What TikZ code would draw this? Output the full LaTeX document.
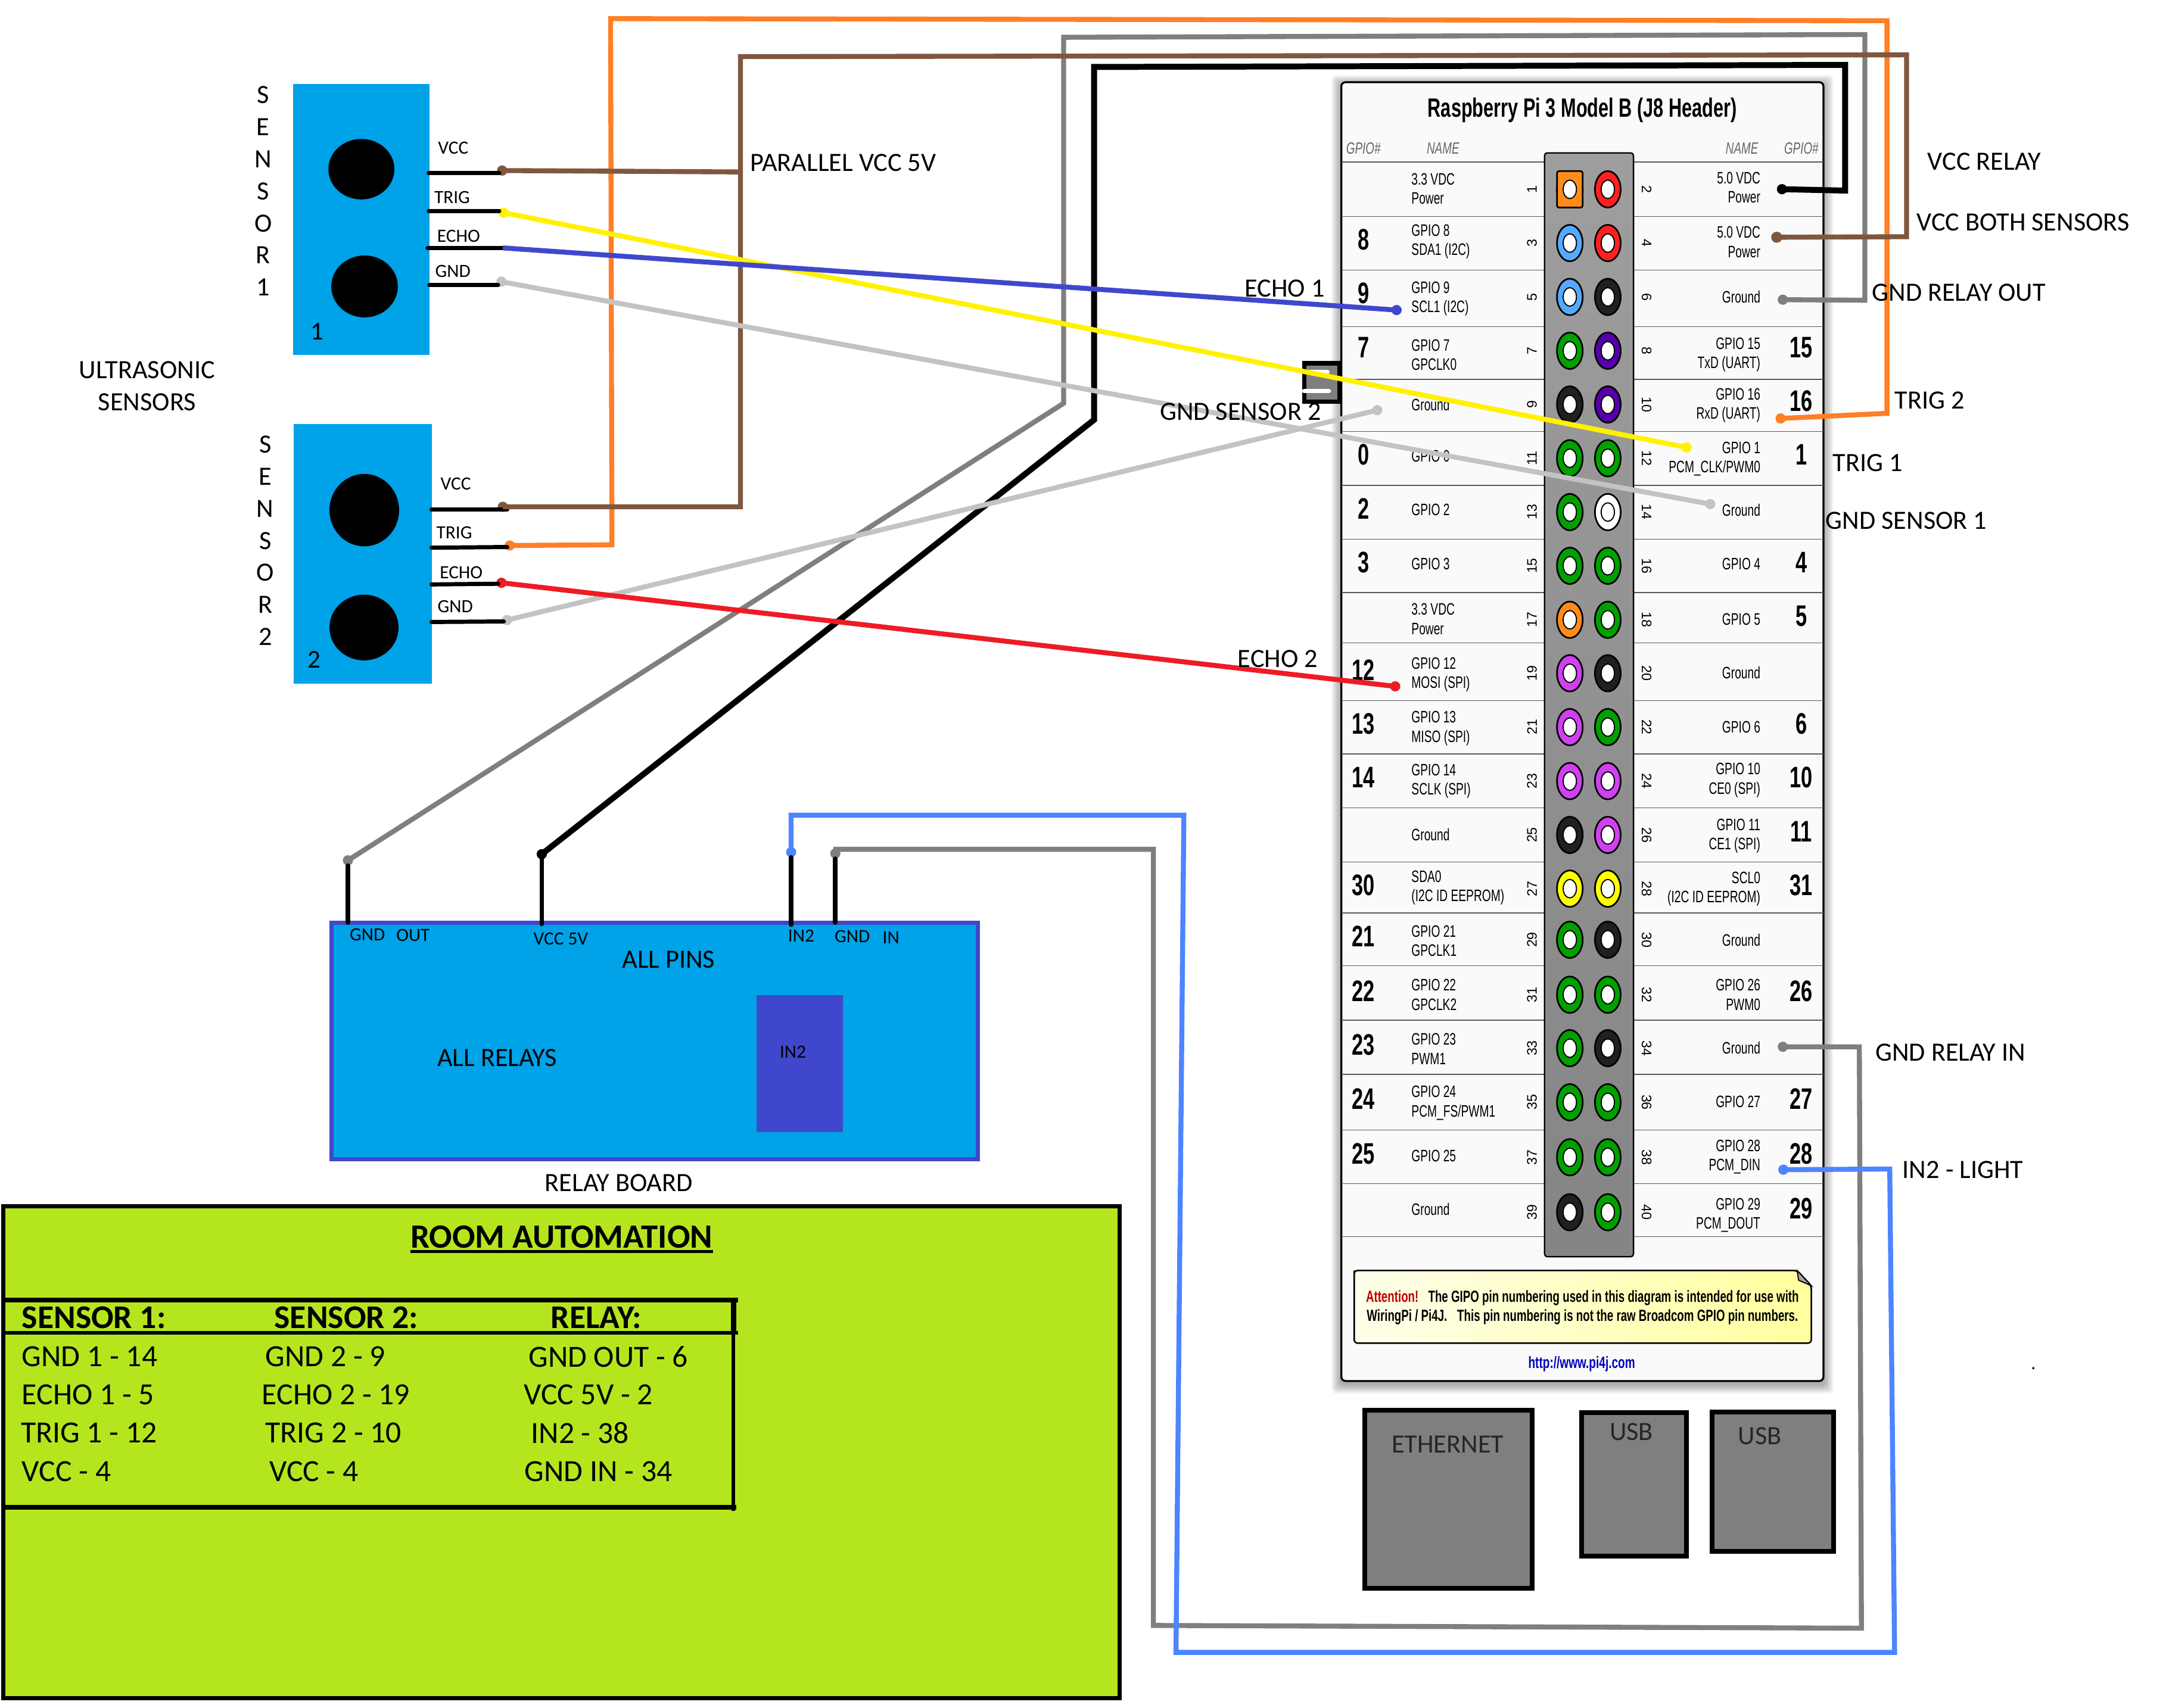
\documentclass[tikz,border=0pt]{standalone}
\usepackage{fontspec}
\setmainfont{Carlito}
\newfontfamily\nf[FakeStretch=0.69]{Liberation Sans}
\newfontfamily\lib{Liberation Sans}
\usetikzlibrary{shapes.geometric}
\definecolor{skyb}{HTML}{00A2E8}
\definecolor{indig}{HTML}{3F48CC}
\definecolor{limeg}{HTML}{B5E61D}
\definecolor{wbrown}{HTML}{7F573F}
\definecolor{wyellow}{HTML}{FFF200}
\definecolor{wlgray}{HTML}{C3C3C3}
\definecolor{wred}{HTML}{ED1C24}
\definecolor{worange}{HTML}{FF7F27}
\definecolor{wgray}{HTML}{7F7F7F}
\definecolor{wlblue}{HTML}{4D84FF}
\definecolor{pg}{HTML}{00A000}
\definecolor{pb}{HTML}{55AAFF}
\definecolor{pr}{HTML}{FF2020}
\definecolor{po}{HTML}{FF8C1A}
\definecolor{pv}{HTML}{5500AA}
\definecolor{pm}{HTML}{D040F0}
\definecolor{py}{HTML}{FFFF00}
\definecolor{pk}{HTML}{202020}
\definecolor{pw}{HTML}{FFFFFF}
\tikzset{
 lab/.style={font=\fontsize{19.1}{22}\selectfont,inner sep=0,text=black},
 labs/.style={font=\fontsize{13.5}{16}\selectfont,inner sep=0,text=black},
 tabb/.style={font=\bfseries\fontsize{24}{28}\selectfont,inner sep=0,anchor=west},
 tabt/.style={font=\fontsize{22.3}{26}\selectfont,inner sep=0,anchor=west},
 wire/.style={line width=3.6pt,line join=miter},
 stub/.style={line width=3pt,black,line cap=round},
 wdot/.style={circle,inner sep=0,minimum size=7.4pt},
 pinring/.style={ellipse,draw=black,line width=1.2pt,minimum width=18.6pt,minimum height=26.4pt,inner sep=0},
 pinhole/.style={ellipse,draw=black,line width=0.8pt,fill=white,minimum width=9.6pt,minimum height=13.4pt,inner sep=0},
 pnl/.style={font=\lib\fontsize{10}{12}\selectfont,inner sep=0,rotate=90},
 pnr/.style={font=\lib\fontsize{10}{12}\selectfont,inner sep=0,rotate=-90},
 namel/.style={font=\nf\fontsize{12}{14}\selectfont,inner sep=0,anchor=west,align=left},
 namer/.style={font=\nf\fontsize{12}{14}\selectfont,inner sep=0,anchor=east,align=right},
 bignum/.style={font=\nf\bfseries\fontsize{21.5}{24}\selectfont,inner sep=0},
 headt/.style={font=\nf\itshape\fontsize{11.8}{13}\selectfont,inner sep=0,text=black!60},
 boxp/.style={draw=black,fill=wgray,line width=3.5pt,inner sep=0},
 rowline/.style={draw=black!65,line width=0.7pt},
}
\begin{document}
\begin{tikzpicture}[x=1pt,y=-1pt]
\useasboundingbox (0,0) rectangle (1568,1236.8);
\fill[white] (0,0) rectangle (1568,1236.8);

% ---------- Raspberry Pi board
\foreach \r in {7,6,5,4,3,2,1}{
  \fill[black,opacity=0.05,rounded corners=3pt] (971-\r,59.5-\r+2) rectangle (1320+\r,1000+\r+2);
}
\node[draw=black,line width=1.4pt,fill=black!2,rounded corners=3pt,minimum width=349pt,minimum height=940.5pt,inner sep=0] (board) at (1145.5,529.75) {};
\node[font=\nf\bfseries\fontsize{19.2}{22}\selectfont,inner sep=0] (title) at (1145.5,79.8) {Raspberry Pi 3 Model B (J8 Header)};
\node[headt] (hg1) at (987,107.5) {GPIO\#};
\node[headt] (hn1) at (1044.6,107.5) {NAME};
\node[headt] (hn2) at (1261,107.5) {NAME};
\node[headt] (hg2) at (1304,107.5) {GPIO\#};
\foreach \yy in {117.3,156.7,195.6,236.6,274.8,312.4,351.4,390.5,429.2,465.5,507.3,546,585,624.2,661.1,699.2,738.8,778,818.2,857.1,895.4}{
  \draw[rowline] (971,\yy) -- (1320,\yy);
}
\node[draw=black,line width=1pt,top color=black!38,bottom color=black!48,rounded corners=2pt,minimum width=64.4pt,minimum height=799.3pt,inner sep=0] (header) at (1150.3,510.35) {};

\foreach \a/\b/\yy/\ca/\cb in {1/2/137.1/po/pr,3/4/176/pb/pr,5/6/215/pb/pk,7/8/254/pg/pv,9/10/292.9/pk/pv,11/12/331.8/pg/pg,13/14/370.8/pg/pw,15/16/409.7/pg/pg,17/18/448.8/po/pg,19/20/487.5/pm/pk,21/22/526.5/pm/pg,23/24/565.6/pm/pm,25/26/604.6/pk/pm,27/28/643.5/py/py,29/30/680.5/pg/pk,31/32/720.3/pg/pg,33/34/759/pg/pk,35/36/798.2/pg/pg,37/38/838/pg/pg,39/40/877.8/pk/pg}{
  \node[pinring,fill=\ca] (p\a) at (1136.4,\yy) {};
  \node[pinring,fill=\cb] (p\b) at (1163.9,\yy) {};
  \node[pnl] (nl\a) at (1109,\yy) {\a};
  \node[pnr] (nr\b) at (1192,\yy) {\b};
}
\node[draw=black,line width=1.2pt,fill=po,rounded corners=1.5pt,minimum width=18.6pt,minimum height=26.4pt,inner sep=0] (p1sq) at (p1) {};
\foreach \a/\b/\yy in {1/2/137.1,3/4/176,5/6/215,7/8/254,9/10/292.9,11/12/331.8,13/14/370.8,15/16/409.7,17/18/448.8,19/20/487.5,21/22/526.5,23/24/565.6,25/26/604.6,27/28/643.5,29/30/680.5,31/32/720.3,33/34/759,35/36/798.2,37/38/838,39/40/877.8}{
  \node[pinhole] (ha\a) at (1136.4,\yy) {};
  \node[pinhole] (hb\b) at (1163.9,\yy) {};
}

% left column: pin / text y / number y / number / text
\foreach \pin/\ty/\yy/\num/\txt in {
 1/136.6/137.1/{}/{3.3 VDC\\Power},
 3/175/176/8/{GPIO 8\\SDA1 (I2C)},
 5/216.4/215/9/{GPIO 9\\SCL1 (I2C)},
 7/256.9/254/7/{GPIO 7\\GPCLK0},
 9/292.9/292.9/{}/{Ground},
 11/330.3/331.8/0/{GPIO 0},
 13/369.2/370.8/2/{GPIO 2},
 15/408.3/409.7/3/{GPIO 3},
 17/448.3/448.8/{}/{3.3 VDC\\Power},
 19/488.4/487.5/12/{GPIO 12\\MOSI (SPI)},
 21/527.4/526.5/13/{GPIO 13\\MISO (SPI)},
 23/565.6/565.6/14/{GPIO 14\\SCLK (SPI)},
 25/604.4/604.6/{}/{Ground},
 27/642.8/643.5/30/{SDA0\\(I2C ID EEPROM)},
 29/681.4/680.5/21/{GPIO 21\\GPCLK1},
 31/720.4/720.3/22/{GPIO 22\\GPCLK2},
 33/759.5/759/23/{GPIO 23\\PWM1},
 35/798.6/798.2/24/{GPIO 24\\PCM\_FS/PWM1},
 37/836.9/838/25/{GPIO 25},
 39/875.6/877.8/{}/{Ground}}{
  \node[namel] (tl\pin) at (1021.6,\ty) {\txt};
  \node[bignum] (gl\pin) at (987,\yy-2.5) {\num};
}
% right column
\foreach \pin/\ty/\yy/\num/\txt in {
 2/135.8/137.1/{}/{5.0 VDC\\Power},
 4/175.2/176/{}/{5.0 VDC\\Power},
 6/215.2/215/{}/{Ground},
 8/256.9/254/15/{GPIO 15\\TxD (UART)},
 10/293.6/292.9/16/{GPIO 16\\RxD (UART)},
 12/332.3/331.8/1/{GPIO 1\\PCM\_CLK/PWM0},
 14/369.2/370.8/{}/{Ground},
 16/408.3/409.7/4/{GPIO 4},
 18/448.4/448.8/5/{GPIO 5},
 20/487.3/487.5/{}/{Ground},
 22/526.5/526.5/6/{GPIO 6},
 24/565/565.6/10/{GPIO 10\\CE0 (SPI)},
 26/605.3/604.6/11/{GPIO 11\\CE1 (SPI)},
 28/643.8/643.5/31/{SCL0\\(I2C ID EEPROM)},
 30/680.9/680.5/{}/{Ground},
 32/720.4/720.3/26/{GPIO 26\\PWM0},
 34/758.8/759/{}/{Ground},
 36/797.7/798.2/27/{GPIO 27},
 38/837.8/838/28/{GPIO 28\\PCM\_DIN},
 40/880/877.8/29/{GPIO 29\\PCM\_DOUT}}{
  \node[namer] (tr\pin) at (1274.5,\ty) {\txt};
  \node[bignum] (gr\pin) at (1304,\yy-2.5) {\num};
}

% attention note
\path[draw=black,line width=1.1pt,left color=yellow!8,right color=yellow!38,rounded corners=2.5pt]
  (980.3,922.5) -- (980.3,972.6) -- (1311.2,972.6) -- (1311.2,931) -- (1301,920) -- (980.3,920) -- cycle;
\path[draw=black,line width=0.8pt,fill=black!35] (1301,920) -- (1302,927) -- (1311.2,931) -- cycle;
\node[font=\nf\bfseries\fontsize{11.7}{13}\selectfont,inner sep=0] (att1) at (1145.5,939.8) {\textcolor{red!75!black}{Attention!}\hspace{7pt}The GIPO pin numbering used in this diagram is intended for use with};
\node[font=\nf\bfseries\fontsize{11.7}{13}\selectfont,inner sep=0] (att2) at (1145.5,953.8) {WiringPi / Pi4J.\hspace{5pt} This pin numbering is not the raw Broadcom GPIO pin numbers.};
\node[font=\nf\bfseries\fontsize{11.9}{13}\selectfont,inner sep=0,text=blue!75!black] (link) at (1145,987.5) {http://www.pi4j.com};

% connector blocks
\node[boxp,minimum width=121pt,minimum height=129pt] (eth) at (1048.5,1085.5) {};
\node[boxp,minimum width=76pt,minimum height=104pt] (usb1) at (1183,1075) {};
\node[boxp,minimum width=88pt,minimum height=101pt] (usb2) at (1283.5,1073) {};
\node[lab,text=black!85] (ethl) at (1048,1046) {ETHERNET};
\node[lab,text=black!85] (usb1l) at (1181,1037) {USB};
\node[lab,text=black!85] (usb2l) at (1274,1040) {USB};

% small connector on edge of board
\node[draw=black,fill=wgray,line width=3.2pt,minimum width=25.4pt,minimum height=27.8pt,inner sep=0] (smallc) at (957,276.9) {};
\draw[white,line width=3pt,line cap=round] (smallc.center) ++(-13,-7.4) coordinate (sa) -- +(17,0);
\draw[white,line width=3pt,line cap=round] (smallc.center) ++(-13,6.4) coordinate (sb) -- +(18,0);

% ---------- Sensors
\node[fill=skyb,minimum width=99pt,minimum height=196pt,inner sep=0] (s1) at (261.5,159) {};
\node[fill=skyb,minimum width=100pt,minimum height=188pt,inner sep=0] (s2) at (262.5,401) {};
\node[ellipse,fill=black,minimum width=47.8pt,minimum height=43.8pt,inner sep=0] (e11) at (261.6,122.5) {};
\node[ellipse,fill=black,minimum width=48.2pt,minimum height=44.8pt,inner sep=0] (e12) at (263.9,207.4) {};
\node[ellipse,fill=black,minimum width=50.4pt,minimum height=52.4pt,inner sep=0] (e21) at (263.7,369.4) {};
\node[ellipse,fill=black,minimum width=50pt,minimum height=47.6pt,inner sep=0] (e22) at (263.5,454.4) {};
\node[font=\fontsize{18.5}{20}\selectfont,inner sep=0] (n1) at (229.6,240) {1};
\node[font=\fontsize{18.5}{20}\selectfont,inner sep=0] (n2) at (227.6,477.5) {2};

\foreach \c [count=\i] in {S,E,N,S,O,R,1}{
  \node[lab] (sa\i) at (190.5,45.7+23.2*\i) {\c};
}
\foreach \c [count=\i] in {S,E,N,S,O,R,2}{
  \node[lab] (sb\i) at (192,298.7+23.2*\i) {\c};
}
\node[lab,align=center,font=\fontsize{19.1}{23}\selectfont] (ultra) at (106.5,279.5) {ULTRASONIC\\SENSORS};

\node[labs] (l1) at (328.1,107.2) {VCC};
\node[labs] (l2) at (327.3,142.9) {TRIG};
\node[labs] (l3) at (332,171) {ECHO};
\node[labs] (l4) at (327.8,196.2) {GND};
\node[labs] (l5) at (329.9,350.4) {VCC};
\node[labs] (l6) at (328.9,385.8) {TRIG};
\node[labs] (l7) at (333.9,414.6) {ECHO};
\node[labs] (l8) at (329.6,439.4) {GND};

% wire-end dots
\node[wdot,fill=wbrown] (dvcc1) at (363.5,123.5) {};
\node[wdot,fill=wyellow] (dtrig1) at (364.5,154) {};
\coordinate (decho1) at (364,179.5);
\node[wdot,fill=wlgray] (dgnd1) at (363,204) {};
\node[wdot,fill=wbrown] (dvcc2) at (364,367) {};
\node[wdot,fill=worange] (dtrig2) at (369,395) {};
\node[wdot,fill=wred] (decho2) at (363,422) {};
\node[wdot,fill=wlgray] (dgnd2) at (367,449) {};
\node[wdot,fill=indig] (pecho1) at (1011,224.5) {};
\node[wdot,fill=wyellow] (ptrig1) at (1221,324) {};
\node[wdot,fill=wlgray] (pgnd1) at (1238,365) {};
\node[wdot,fill=wlgray] (pgnd2) at (997,297) {};
\node[wdot,fill=wred] (pecho2) at (1010,497) {};
\node[wdot,fill=worange] (ptrig2) at (1289,303) {};
\node[wdot,fill=wbrown,minimum size=8pt] (pvcc) at (1286.2,171.8) {};
\node[wdot,fill=black] (prel) at (1290,137) {};
\node[wdot,fill=wgray] (pgout) at (1290.6,217) {};
\node[wdot,fill=wgray] (pgin) at (1290.6,758) {};
\node[wdot,fill=wlblue] (pin2) at (1291,847) {};

% sensor pin stubs
\coordinate (q1) at (310.3,125.4); \coordinate (q1e) at (361.4,125.4);
\coordinate (q2) at (310.3,152.9); \coordinate (q2e) at (361.4,152.9);
\coordinate (q3) at (309.5,179.8); \coordinate (q3e) at (363.9,179.8);
\coordinate (q4) at (310.8,206.5); \coordinate (q4e) at (360.6,206.5);
\coordinate (q5) at (312.4,368.9); \coordinate (q5e) at (367.2,368.9);
\coordinate (q6) at (312.4,396.6); \coordinate (q6e) at (367.2,396.1);
\coordinate (q7) at (312.4,423.2); \coordinate (q7e) at (360.6,422.7);
\coordinate (q8) at (312.4,450.4); \coordinate (q8e) at (364.7,450);
\foreach \i in {1,...,8}{ \draw[stub] (q\i) -- (q\i e); }

% ---------- Relay board
\node[draw=indig,fill=skyb,line width=3pt,minimum width=468pt,minimum height=171pt,inner sep=0] (relay) at (474,753.9) {};
\node[fill=indig,minimum width=62.7pt,minimum height=99.1pt,inner sep=0] (in2box) at (578.9,770.1) {};
\node[labs] (r1) at (266,676.7) {GND};
\node[labs] (r2) at (299,677.4) {OUT};
\node[labs] (r3) at (406,680) {VCC 5V};
\node[labs] (r4) at (580,677.5) {IN2};
\node[labs] (r5) at (617,678.3) {GND};
\node[labs] (r6) at (645,679) {IN};
\node[lab] (r7) at (484,695) {ALL PINS};
\node[lab] (r8) at (360,766) {ALL RELAYS};
\node[labs] (r9) at (574,761.6) {IN2};
\node[lab] (r10) at (448,856.4) {RELAY BOARD};

\node[wdot,fill=wgray] (rgo) at (251.9,623) {};
\node[wdot,fill=black] (rvc) at (392.2,618.5) {};
\node[wdot,fill=wlblue] (rin) at (572.7,617) {};
\node[wdot,fill=wgray] (rgi) at (604.7,618) {};
\coordinate (rs1) at (251.9,668); \coordinate (rs2) at (392.2,669);
\coordinate (rs3) at (572.7,669.5); \coordinate (rs4) at (604.7,668);
\draw[stub,line width=3.4pt] (rgo) -- (rs1);
\draw[stub,line width=3.4pt] (rvc) -- (rs2);
\draw[stub,line width=3.4pt] (rin) -- (rs3);
\draw[stub,line width=3.4pt] (rgi) -- (rs4);

% ---------- Long wires
\coordinate (gt1) at (770,292); \coordinate (gt2) at (770,27); \coordinate (gt3) at (1350,25); \coordinate (gt4) at (1350,217.4);
\draw[wire,wgray] (rgo.center) -- (gt1) -- (gt2) -- (gt3) -- (gt4) -- (pgout.center);
\coordinate (ot1) at (443,394.5); \coordinate (ot2) at (442,13.5); \coordinate (ot3) at (1366,15); \coordinate (ot4) at (1366,299.3);
\draw[wire,worange] (dtrig2.center) -- (ot1) -- (ot2) -- (ot3) -- (ot4) -- (ptrig2.center);
\coordinate (bp1) at (536,124.5); \coordinate (bp2) at (536,367); \coordinate (bp3) at (536,41); \coordinate (bp4) at (1380.2,39.7); \coordinate (bp5) at (1380.2,171.4);
\draw[wire,wbrown] (dvcc1.center) -- (bp1);
\draw[wire,wbrown] (dvcc2.center) -- (bp2) -- (bp3) -- (bp4) -- (bp5) -- (pvcc.center);
\coordinate (kt1) at (792,304); \coordinate (kt2) at (792,48.5); \coordinate (kt3) at (1335.7,47); \coordinate (kt4) at (1335.7,138);
\draw[wire,black,line width=4.3pt] (rvc.center) -- (kt1) -- (kt2) -- (kt3) -- (kt4) -- (prel.center);
\coordinate (gi1) at (605,615); \coordinate (gi2) at (835,615); \coordinate (gi3) at (835,1177); \coordinate (gi4) at (1347.5,1179); \coordinate (gi5) at (1346,758);
\draw[wire,wgray] (rgi.center) -- (gi1) -- (gi2) -- (gi3) -- (gi4) -- (gi5) -- (pgin.center);
\coordinate (bi1) at (572.7,590.3); \coordinate (bi2) at (857,590.3); \coordinate (bi3) at (851.3,1196.5); \coordinate (bi4) at (1371.5,1196.5); \coordinate (bi5) at (1368,846.5);
\draw[wire,wlblue] (rin.center) -- (bi1) -- (bi2) -- (bi3) -- (bi4) -- (bi5) -- (pin2.center);

\draw[wire,wlgray] (dgnd1.center) -- (pgnd1.center);
\draw[wire,wlgray] (dgnd2.center) -- (pgnd2.center);
\draw[wire,wyellow] (dtrig1.center) -- (ptrig1.center);
\draw[wire,indig] (decho1) -- (pecho1.center);
\draw[wire,wred] (decho2.center) -- (pecho2.center);

% ---------- Floating labels
\node[lab,anchor=west] (t1) at (543,118) {PARALLEL VCC 5V};
\node[lab] (t2) at (930,209) {ECHO 1};
\node[lab] (t3) at (898,298) {GND SENSOR 2};
\node[lab] (t4) at (925,477) {ECHO 2};
\node[lab] (t5) at (1436.5,117) {VCC RELAY};
\node[lab] (t6) at (1464.5,161) {VCC BOTH SENSORS};
\node[lab] (t7) at (1418,212) {GND RELAY OUT};
\node[lab] (t8) at (1397,290) {TRIG 2};
\node[lab] (t9) at (1352,335) {TRIG 1};
\node[lab] (t10) at (1380,377) {GND SENSOR 1};
\node[lab] (t11) at (1412,762) {GND RELAY IN};
\node[lab] (t12) at (1421,847) {IN2 - LIGHT};
\node[labs] (t13) at (1472,991) {.};

% ---------- Green panel
\node[draw=black,fill=limeg,line width=3pt,minimum width=808pt,minimum height=356pt,inner sep=0] (panel) at (406.5,1051.5) {};
\node[font=\bfseries\fontsize{24.6}{28}\selectfont,inner sep=0] (rt) at (406.5,895.5) {ROOM AUTOMATION};
\draw[line width=2pt] (rt.south west) ++(0,2.5) coordinate (u1) -- (rt.south east |- u1);
\coordinate (tl) at (2,941.3); \coordinate (tr) at (534.5,941.3);
\coordinate (ml) at (2,965.2); \coordinate (mr) at (534.5,965.2);
\coordinate (bl) at (2,1091.5); \coordinate (br) at (533,1091.5);
\coordinate (vt) at (531,941.3); \coordinate (vm) at (531,965.2); \coordinate (vb) at (531,1094);
\draw[line width=3.5pt] (tl) -- (tr);
\draw[line width=2.5pt] (ml) -- (mr);
\draw[line width=3.2pt] (bl) -- (br);
\draw[line width=4pt] (vt) -- (vm);
\draw[line width=2.6pt] (vm) -- (vb);
\node[tabb] (h1) at (15.7,954) {SENSOR 1:};
\node[tabb] (h2) at (198.4,954) {SENSOR 2:};
\node[tabb] (h3) at (398.6,954) {RELAY:};
\node[tabt] (a1) at (15.7,982.5) {GND 1 - 14};
\node[tabt] (a2) at (15.7,1010) {ECHO 1 - 5};
\node[tabt] (a3) at (15,1037.6) {TRIG 1 - 12};
\node[tabt] (a4) at (15.7,1065.4) {VCC - 4};
\node[tabt] (b1) at (192,982.5) {GND 2 - 9};
\node[tabt] (b2) at (189.5,1010) {ECHO 2 - 19};
\node[tabt] (b3) at (192,1037.6) {TRIG 2 - 10};
\node[tabt] (b4) at (194.8,1065.4) {VCC - 4};
\node[tabt] (c1) at (382.5,982.5) {GND OUT - 6};
\node[tabt] (c2) at (379,1010) {VCC 5V - 2};
\node[tabt] (c3) at (384.3,1037.6) {IN2 - 38};
\node[tabt] (c4) at (379.7,1065.4) {GND IN - 34};
\end{tikzpicture}
\end{document}
